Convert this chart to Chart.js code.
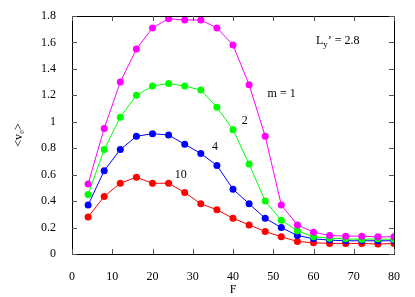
<!DOCTYPE html>
<html><head><meta charset="utf-8">
<script src="https://cdn.jsdelivr.net/npm/chart.js@4"></script>
<style>html,body{margin:0;padding:0;background:#fff}#w{width:415px;height:297px}</style>
</head><body><div id="w"><canvas id="c"></canvas></div>
<script>
const F = [4,8,12,16,20,24,28,32,36,40,44,48,52,56,60,64,68,72,76,80];
const m1 = [0.53,0.95,1.30,1.55,1.71,1.78,1.77,1.77,1.71,1.58,1.28,0.89,0.37,0.22,0.165,0.14,0.135,0.135,0.13,0.13];
const m2 = [0.45,0.79,1.035,1.20,1.27,1.29,1.27,1.24,1.11,0.94,0.68,0.40,0.255,0.175,0.13,0.12,0.115,0.11,0.115,0.11];
const m4 = [0.37,0.63,0.79,0.89,0.91,0.90,0.83,0.76,0.67,0.49,0.38,0.27,0.20,0.14,0.115,0.105,0.10,0.10,0.10,0.10];
const m10 = [0.28,0.435,0.535,0.58,0.535,0.535,0.465,0.38,0.335,0.27,0.22,0.17,0.13,0.095,0.085,0.08,0.08,0.08,0.075,0.08];
const xTicks = [0,10,20,30,40,50,60,70,80];
const yTicks = [0,0.2,0.4,0.6,0.8,1,1.2,1.4,1.6,1.8];
const FONT = '"Liberation Serif", "Times New Roman", serif';

function ds(vals, color){
  return {data: F.map((f,i)=>({x:f,y:vals[i]})), borderColor: color, backgroundColor: color,
    borderWidth: 1, pointRadius: 3.5, pointHoverRadius: 3.5, pointBorderWidth: 0, tension: 0};
}

const frame = {
  id: 'frame',
  afterDraw(chart){
    const ctx = chart.ctx, a = chart.chartArea, xs = chart.scales.x, ys = chart.scales.y;
    ctx.save();
    ctx.strokeStyle = '#000'; ctx.lineWidth = 1;
    ctx.strokeRect(Math.round(a.left)+0.5, Math.round(a.top)+0.5, Math.round(a.right-a.left), Math.round(a.bottom-a.top));
    ctx.strokeStyle = '#555';
    const L = 5;
    xTicks.forEach(v=>{ const px = Math.round(xs.getPixelForValue(v))+0.5;
      ctx.beginPath(); ctx.moveTo(px,a.bottom); ctx.lineTo(px,a.bottom-L); ctx.moveTo(px,a.top); ctx.lineTo(px,a.top+L); ctx.stroke(); });
    yTicks.forEach(v=>{ const py = Math.round(ys.getPixelForValue(v))+0.5;
      ctx.beginPath(); ctx.moveTo(a.left,py); ctx.lineTo(a.left+L,py); ctx.moveTo(a.right,py); ctx.lineTo(a.right-L,py); ctx.stroke(); });
    // annotations
    ctx.fillStyle = '#000'; ctx.textBaseline = 'middle'; ctx.textAlign = 'left';
    ctx.font = '12px ' + FONT;
    const P = (x,y)=>[xs.getPixelForValue(x), ys.getPixelForValue(y)];
    let [x,y] = P(48.6, 1.21); ctx.fillText('m = 1', x, y);
    [x,y] = P(42.2, 1.01); ctx.fillText('2', x, y);
    [x,y] = P(34.8, 0.81); ctx.fillText('4', x, y);
    [x,y] = P(25.5, 0.60); ctx.fillText('10', x, y);
    [x,y] = P(60.6, 1.61);
    ctx.fillText('L', x, y); let w = ctx.measureText('L').width;
    ctx.font = '9px ' + FONT; ctx.fillText('y', x+w, y+4); w += ctx.measureText('y').width;
    ctx.font = '12px ' + FONT; ctx.fillText('\u2019 = 2.8', x+w, y);
    ctx.restore();
  }
};

new Chart(document.getElementById('c'), {
  type: 'line',
  data: {datasets: [ds(m1,'#ff00ff'), ds(m2,'#00ff00'), ds(m4,'#0000ff'), ds(m10,'#ff0000')]},
  plugins: [frame],
  options: {
    responsive: true, maintainAspectRatio: false, animation: false,
    layout: {padding: {top: 16, right: 21, left: 0, bottom: 0}},
    plugins: {legend: {display: false}, tooltip: {enabled: false}},
    scales: {
      x: {type: 'linear', min: 0, max: 80,
        afterBuildTicks: s => { s.ticks = xTicks.map(v=>({value:v})); },
        afterFit: s => { s.height = 43; },
        grid: {display: false}, border: {display: false},
        ticks: {color: '#000', font: {family: FONT, size: 12}, padding: 8, maxRotation: 0},
        title: {display: true, text: 'F', color: '#000', font: {family: FONT, size: 12}, padding: {top: 2, bottom: 0}}
      },
      y: {type: 'linear', min: 0, max: 1.8,
        afterBuildTicks: s => { s.ticks = yTicks.map(v=>({value:v})); },
        afterFit: s => { s.width = 72; },
        grid: {display: false}, border: {display: false},
        ticks: {color: '#000', font: {family: FONT, size: 12}, padding: 8, callback: v => String(+v.toFixed(1))},
        title: {display: true, text: '<v\u2080>', color: '#000', font: {family: FONT, size: 12}, padding: {top: 12, bottom: 0}}
      }
    }
  }
});
</script></body></html>
